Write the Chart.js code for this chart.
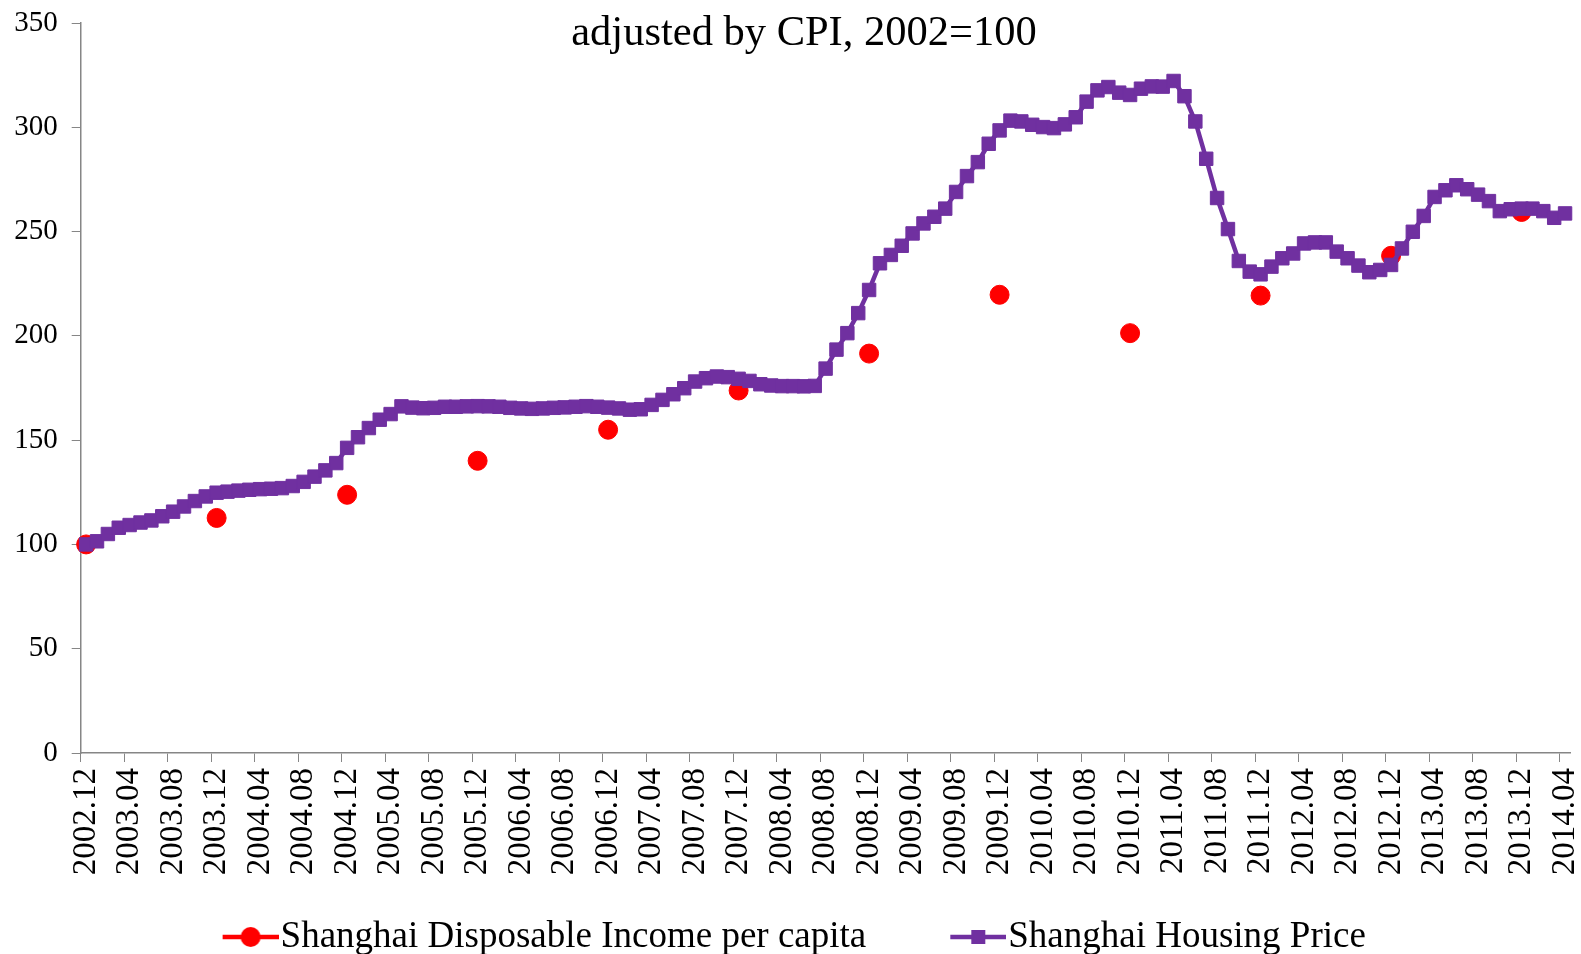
<!DOCTYPE html>
<html>
<head>
<meta charset="utf-8">
<script src="https://cdn.jsdelivr.net/npm/chart.js@4"></script>
<style>
  html, body { margin: 0; padding: 0; background: #ffffff; }
  #wrap { width: 1581px; height: 954px; }
</style>
</head>
<body>
<div id="wrap"><canvas id="chartShanghai" width="1581" height="954"></canvas></div>
<script>
//---------------------------------------- DATA ----------------------------------------------------

// LABELS - one per month, 2002.12 -> 2014.04
const firstYear = 2002, firstMonth = 12, monthCount = 137;
const monthLabels = [];
for (let k = 0; k < monthCount; k++) {
  const m = (firstMonth - 1 + k) % 12 + 1;
  const y = firstYear + Math.floor((firstMonth - 1 + k) / 12);
  monthLabels.push(y + "." + (m < 10 ? "0" + m : m));
}

// Shanghai Housing Price (monthly, 2002=100)
const housingPrice = [
  100, 101.5, 105, 108, 109.3, 110.5, 111.5, 113.5, 115.7, 118.2, 120.8, 123,
  124.8, 125.3, 125.8, 126.2, 126.5, 126.7, 127, 128, 130, 132.5, 135.5, 139,
  146.3, 151.4, 155.8, 159.8, 162.5, 166.2, 165.6, 165.3, 165.5, 166, 166, 166.2,
  166.3, 166.2, 166, 165.5, 165.2, 165, 165.2, 165.5, 165.7, 166, 166.3, 166,
  165.6, 165.2, 164.6, 164.8, 166.9, 169.3, 172, 174.9, 178.1, 179.7, 180.5, 180.2,
  179.4, 178.4, 176.8, 176.2, 175.9, 175.9, 175.8, 176, 184.3, 193.4, 201.3, 210.9,
  222, 234.8, 238.8, 243.2, 249.1, 253.9, 257.1, 261, 269, 276.6, 283.3, 292.1,
  298.5, 303.2, 302.8, 301.2, 300.1, 299.6, 301.4, 304.8, 312.3, 317.7, 319.3, 316.6,
  315.5, 318.5, 319.6, 319.5, 322.2, 314.9, 302.8, 284.9, 266.1, 251.2, 235.9, 230.8,
  229.5, 233.2, 237.2, 239.5, 244.3, 244.8, 244.8, 240.4, 237.2, 233.7, 230.5, 231.6,
  234, 241.9, 249.9, 257.5, 266.6, 269.8, 272.2, 270.3, 267.7, 264.6, 259.8, 260.7,
  261, 261, 259.8, 256.6, 258.7
];

// Shanghai Disposable Income per capita (one value each December, 2002 -> 2013)
const incomeYears = ["2002.12", "2003.12", "2004.12", "2005.12", "2006.12", "2007.12",
                     "2008.12", "2009.12", "2010.12", "2011.12", "2012.12", "2013.12"];
const incomeValues = [100, 112.7, 123.8, 140.1, 155, 173.8, 191.5, 219.7, 201.3, 219.3, 238.4, 259.4];

// income on the monthly axis, empty months = null
const incomeMonthly = monthLabels.map(lab => {
  const k = incomeYears.indexOf(lab);
  return k >= 0 ? incomeValues[k] : null;
});

const titleText = "adjusted by CPI, 2002=100";
const red = "#ff0000";
const purple = "#7030a0";
const axisGrey = "#868686";

//---------------------------------------- LEGEND ICONS (line + marker) -----------------------------
// icon is wider than the drawing: the drawing sits on its right side, next to the text

const iconWidth = 119;
function makeLegendIcon(kind, color) {
  const c = document.createElement("canvas");
  c.width = iconWidth; c.height = 26;
  const g = c.getContext("2d");
  const x0 = iconWidth - 56;
  g.strokeStyle = color;
  g.lineWidth = 4.5;
  g.beginPath(); g.moveTo(x0, 13); g.lineTo(iconWidth, 13); g.stroke();
  g.fillStyle = color;
  if (kind === "circle") {
    g.beginPath(); g.arc(x0 + 28, 13, 10, 0, 2 * Math.PI); g.fill();
  } else {
    g.fillRect(x0 + 21, 6, 14, 14);
  }
  return c;
}
const legendIcons = [makeLegendIcon("circle", red), makeLegendIcon("rect", purple)];

// title drawn over the top of the plot, like the original
const titlePlugin = {
  id: "titleLine",
  afterDraw(chart) {
    const ctx = chart.ctx;
    ctx.save();
    ctx.font = "42.5px 'Liberation Serif'";
    ctx.fillStyle = "#000";
    ctx.textAlign = "center";
    ctx.textBaseline = "alphabetic";
    ctx.fillText(titleText, 804, 45);
    ctx.restore();
  }
};

//---------------------------------------- GRAPH SET-UP ----------------------------------------------------

Chart.defaults.font.family = "'Liberation Serif', 'Times New Roman', serif";
Chart.defaults.color = "#000";

const data = {
  labels: monthLabels,
  datasets: [{
    label: "Shanghai Disposable Income per capita",
    data: incomeMonthly,
    borderColor: red,
    backgroundColor: red,
    borderWidth: 4,
    pointStyle: "circle",
    pointRadius: 9.5,
    pointBorderWidth: 1,
    pointBackgroundColor: red,
    pointBorderColor: red,
    spanGaps: false,
    clip: false,
    order: 2
  }, {
    label: "Shanghai Housing Price",
    data: housingPrice,
    borderColor: purple,
    backgroundColor: purple,
    borderWidth: 4.5,
    tension: 0,
    pointStyle: "rect",
    pointRadius: 9.5,
    pointBorderWidth: 1,
    pointBackgroundColor: purple,
    pointBorderColor: purple,
    clip: false,
    order: 1
  }]
};

const config = {
  type: "line",
  data: data,
  plugins: [titlePlugin],
  options: {
    responsive: false,
    animation: false,
    layout: { padding: { left: -29, right: 10, top: 23, bottom: -11.5 } },
    plugins: {
      title: { display: false },
      tooltip: { enabled: false },
      legend: {
        position: "bottom",
        labels: {
          usePointStyle: true,
          pointStyleWidth: 86,
          padding: 37.5,
          font: { size: 37 },
          color: "#000",
          generateLabels: (chart) => {
            const items = Chart.defaults.plugins.legend.labels.generateLabels(chart);
            items.sort((a, b) => a.datasetIndex - b.datasetIndex);
            items.forEach(it => { it.pointStyle = legendIcons[it.datasetIndex]; });
            return items;
          }
        }
      }
    },
    scales: {
      x: {
        type: "category",
        offset: true,
        grid: {
          offset: true,
          drawOnChartArea: false,
          drawTicks: true,
          tickLength: 9,
          color: (ctx) => (ctx.index % 4 === 0 ? axisGrey : "rgba(0,0,0,0)")
        },
        border: { color: axisGrey, width: 1.5 },
        ticks: {
          autoSkip: false,
          maxRotation: 90,
          minRotation: 90,
          padding: 6,
          font: { size: 33, lineHeight: 1 },
          callback: (val, index) => (index % 4 === 0 ? monthLabels[index] : "")
        },
        afterFit: (scale) => {
          scale.height = 128;
          scale.paddingLeft = 0;
          scale.paddingRight = 0;
        }
      },
      y: {
        min: 0,
        max: 350,
        grid: {
          drawOnChartArea: false,
          tickLength: 9,
          color: axisGrey
        },
        border: { color: axisGrey, width: 1.5 },
        ticks: {
          stepSize: 50,
          padding: 14,
          font: { size: 29 }
        },
        afterFit: (scale) => {
          scale.width = 109.7;
          scale.paddingTop = 0;
          scale.paddingBottom = 0;
        }
      }
    }
  }
};

const chartShanghai = new Chart(
  document.getElementById("chartShanghai"),
  config
);
</script>
</body>
</html>
